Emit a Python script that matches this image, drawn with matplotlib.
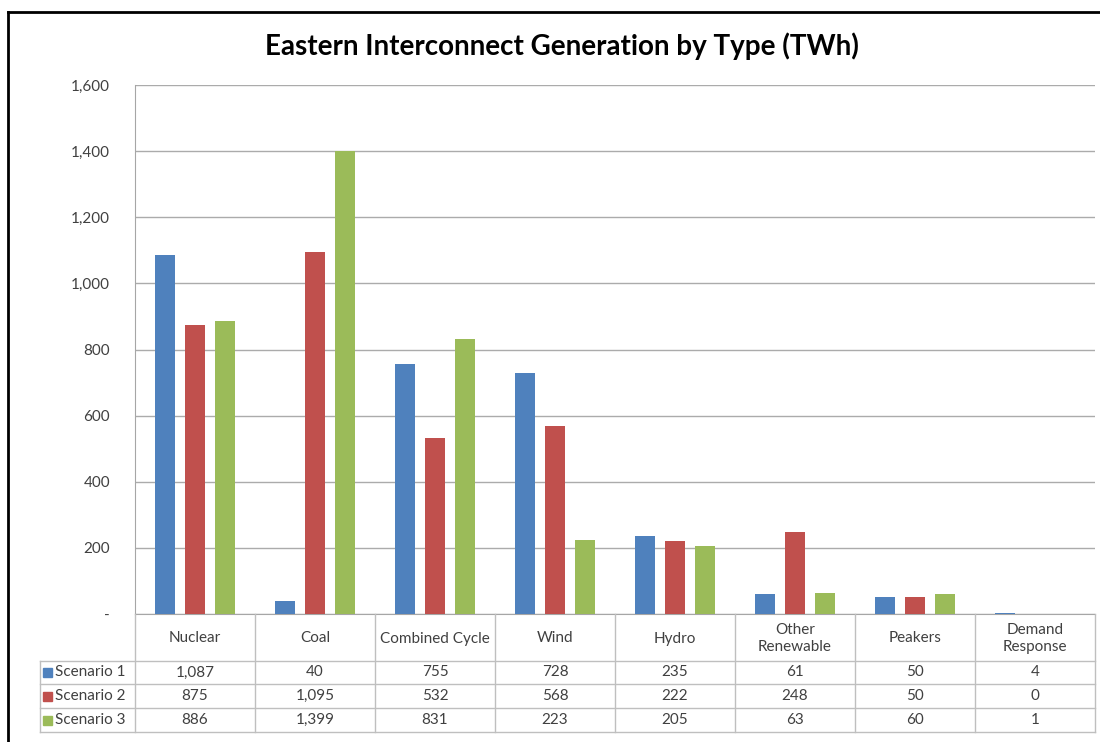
import matplotlib
matplotlib.use("Agg")
import matplotlib.pyplot as plt
import numpy as np
from matplotlib.lines import Line2D
from matplotlib.patches import Rectangle

plt.rcParams['font.family'] = ['Lato', 'DejaVu Sans']

title = "Eastern Interconnect Generation by Type (TWh)"
categories = ["Nuclear", "Coal", "Combined Cycle", "Wind", "Hydro",
              "Other\nRenewable", "Peakers", "Demand\nResponse"]
series_names = ["Scenario 1", "Scenario 2", "Scenario 3"]
scenario1 = [1087, 40, 755, 728, 235, 61, 50, 4]
scenario2 = [875, 1095, 532, 568, 222, 248, 50, 0]
scenario3 = [886, 1399, 831, 223, 205, 63, 60, 1]
colors = ["#4F81BD", "#C0504D", "#9BBB59"]
yticks = [0, 200, 400, 600, 800, 1000, 1200, 1400, 1600]

W, H = 1100, 742
fig = plt.figure(figsize=(W / 100, H / 100), dpi=100)

def fx(px):
    return px / W

def fy(py):
    return 1 - py / H

plot_l, plot_r, plot_t, plot_b = 135, 1095, 85, 614
ax = fig.add_axes([fx(plot_l), fy(plot_b), fx(plot_r) - fx(plot_l), fy(plot_t) - fy(plot_b)])

series = [scenario1, scenario2, scenario3]
n = len(categories)
x = np.arange(n)
bw = 0.167
offs = [-0.25, 0.0, 0.25]
for s, c, o in zip(series, colors, offs):
    ax.bar(x + o, s, width=bw, color=c, zorder=3)

ax.set_xlim(-0.5, n - 0.5)
ax.set_ylim(0, 1600)
ax.set_yticks(yticks)
ax.set_yticklabels(["-" if v == 0 else f"{v:,}" for v in yticks], fontsize=11, color="#404040")
ax.tick_params(axis='y', length=0, pad=18)
ax.set_xticks([])
ax.grid(axis='y', color="#ABABAB", linewidth=1.0, zorder=0)
for sp in ["top", "right"]:
    ax.spines[sp].set_visible(False)
ax.spines["left"].set_color("#A6A6A6")
ax.spines["bottom"].set_color("#A6A6A6")

# overlay axes in pixel coordinates for table and border
ov = fig.add_axes([0, 0, 1, 1], zorder=5)
ov.set_xlim(0, W)
ov.set_ylim(H, 0)
ov.axis('off')
ov.patch.set_alpha(0)

tcol = "#BFBFBF"
tl, tr = 40, 1095
rows_y = [614, 661, 684, 708, 732]
colw = (plot_r - plot_l) / n
for i in range(n + 1):
    xx = plot_l + i * colw
    ov.add_line(Line2D([xx, xx], [rows_y[0], rows_y[-1]], color=tcol, lw=1.0))
ov.add_line(Line2D([tl, tl], [rows_y[1], rows_y[-1]], color=tcol, lw=1.0))
for yy in rows_y[1:]:
    ov.add_line(Line2D([tl, tr], [yy, yy], color=tcol, lw=1.0))

fs = 11
tc = "#404040"
for i, cat in enumerate(categories):
    cx = plot_l + (i + 0.5) * colw
    ov.text(cx, (rows_y[0] + rows_y[1]) / 2 + 1, cat, ha='center', va='center',
            fontsize=fs, color=tc, linespacing=1.3)
for r, (name, s, c) in enumerate(zip(series_names, series, colors)):
    cy = (rows_y[r + 1] + rows_y[r + 2]) / 2
    ov.add_patch(Rectangle((43, cy - 4.5), 9, 9, color=c))
    ov.text(55, cy, name, ha='left', va='center', fontsize=fs, color=tc)
    for i, v in enumerate(s):
        cx = plot_l + (i + 0.5) * colw
        ov.text(cx, cy, f"{v:,}", ha='center', va='center', fontsize=fs, color=tc)

# outer border
ov.add_line(Line2D([8, 8], [12, H + 5], color="black", lw=2))
ov.add_line(Line2D([8, W + 5], [12, 12], color="black", lw=2))

ov.text(562, 46, title, ha='center', va='center', fontsize=20, fontweight='bold', color="black")

fig.savefig("out.png", dpi=100, facecolor="white")
